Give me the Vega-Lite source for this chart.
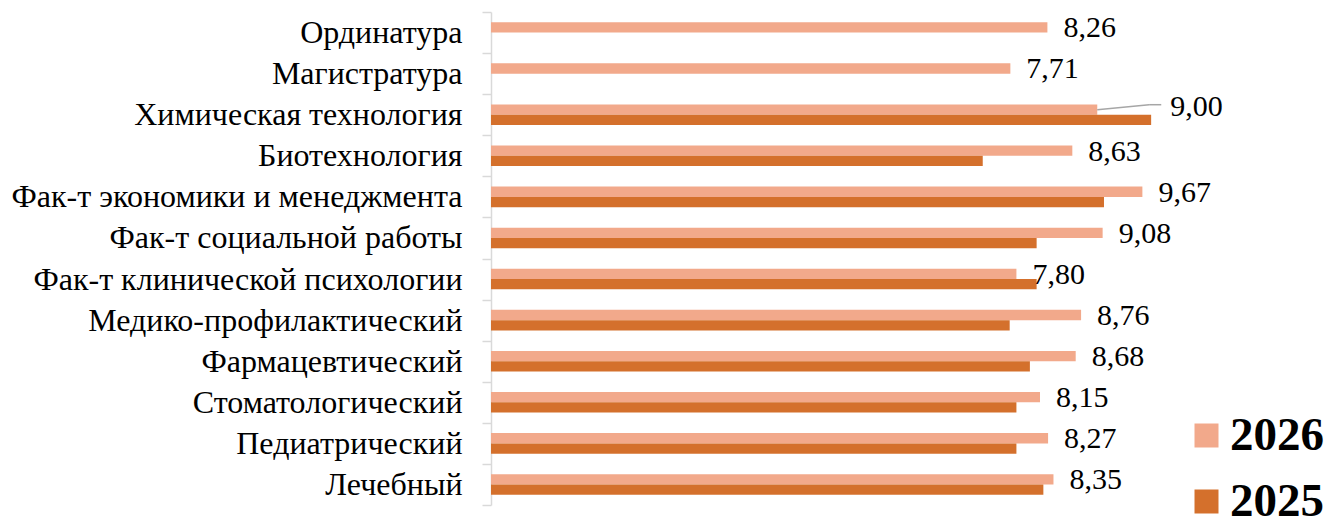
{
  "$schema": "https://vega.github.io/schema/vega-lite/v6.json",
  "width": 840,
  "height": 493,
  "autosize": {"type": "none"},
  "padding": {"left": 491, "top": 12, "right": 1, "bottom": 12},
  "background": "white",
  "config": {
    "view": {"stroke": null},
    "locale": {"number": {"decimal": ",", "thousands": " ", "grouping": [3], "currency": ["", ""]}}
  },
  "datasets": {
    "bars": [
      {"category": "Ординатура", "year": "2026", "value": 8.26},
      {"category": "Магистратура", "year": "2026", "value": 7.71},
      {"category": "Химическая технология", "year": "2026", "value": 9.00},
      {"category": "Химическая технология", "year": "2025", "value": 9.80},
      {"category": "Биотехнология", "year": "2026", "value": 8.63},
      {"category": "Биотехнология", "year": "2025", "value": 7.30},
      {"category": "Фак-т экономики и менеджмента", "year": "2026", "value": 9.67},
      {"category": "Фак-т экономики и менеджмента", "year": "2025", "value": 9.10},
      {"category": "Фак-т социальной работы", "year": "2026", "value": 9.08},
      {"category": "Фак-т социальной работы", "year": "2025", "value": 8.10},
      {"category": "Фак-т клинической психологии", "year": "2026", "value": 7.80},
      {"category": "Фак-т клинической психологии", "year": "2025", "value": 8.10},
      {"category": "Медико-профилактический", "year": "2026", "value": 8.76},
      {"category": "Медико-профилактический", "year": "2025", "value": 7.70},
      {"category": "Фармацевтический", "year": "2026", "value": 8.68},
      {"category": "Фармацевтический", "year": "2025", "value": 8.00},
      {"category": "Стоматологический", "year": "2026", "value": 8.15},
      {"category": "Стоматологический", "year": "2025", "value": 7.80},
      {"category": "Педиатрический", "year": "2026", "value": 8.27},
      {"category": "Педиатрический", "year": "2025", "value": 7.80},
      {"category": "Лечебный", "year": "2026", "value": 8.35},
      {"category": "Лечебный", "year": "2025", "value": 8.20}
    ],
    "leader": [
      {"category": "Химическая технология", "start": 9.00, "bend": 9.77, "end": 9.95}
    ]
  },
  "layer": [
    {
      "data": {"name": "bars"},
      "mark": {"type": "bar", "stroke": null},
      "encoding": {
        "y": {
          "field": "category", "type": "nominal",
          "scale": {
            "domain": ["Ординатура", "Магистратура", "Химическая технология", "Биотехнология", "Фак-т экономики и менеджмента", "Фак-т социальной работы", "Фак-т клинической психологии", "Медико-профилактический", "Фармацевтический", "Стоматологический", "Педиатрический", "Лечебный"],
            "paddingInner": 0, "paddingOuter": 0
          },
          "axis": {
            "title": null,
            "domainColor": "#d9d9d9", "domainWidth": 1.5,
            "tickColor": "#d9d9d9", "tickWidth": 1.5, "tickSize": 9, "tickBand": "extent",
            "labelFont": "Liberation Serif", "labelFontSize": 32, "labelColor": "#000000",
            "labelPadding": 20, "labelLimit": 600
          }
        },
        "yOffset": {"field": "year", "type": "nominal", "scale": {"domain": ["2026", "2025"], "paddingInner": 0, "paddingOuter": 1}},
        "x": {"field": "value", "type": "quantitative", "scale": {"domain": [0, 12.47], "nice": false, "zero": true}, "axis": null},
        "color": {
          "field": "year", "type": "nominal",
          "scale": {"domain": ["2026", "2025"], "range": ["#F2A98B", "#D4702C"]},
          "legend": {
            "orient": "none", "legendX": 692, "legendY": 400, "title": null,
            "symbolType": "square", "symbolSize": 576, "symbolStrokeWidth": 0,
            "labelFont": "Liberation Serif", "labelFontSize": 47, "labelFontWeight": "bold",
            "labelColor": "#000000", "labelOffset": 0, "rowPadding": 18, "padding": 0
          }
        }
      }
    },
    {
      "data": {"name": "bars"},
      "transform": [{"filter": "datum.year == '2026' && datum.category != 'Химическая технология'"}],
      "mark": {"type": "text", "align": "left", "baseline": "middle", "dx": 16, "dy": 1, "font": "Liberation Serif", "fontSize": 30, "color": "#000000"},
      "encoding": {
        "y": {"field": "category", "type": "nominal"},
        "yOffset": {"field": "year", "type": "nominal"},
        "x": {"field": "value", "type": "quantitative"},
        "text": {"field": "value", "type": "quantitative", "format": ".2f"}
      }
    },
    {
      "data": {"name": "bars"},
      "transform": [{"filter": "datum.year == '2026' && datum.category == 'Химическая технология'"}],
      "mark": {"type": "text", "align": "left", "baseline": "middle", "dx": 73, "dy": -3, "font": "Liberation Serif", "fontSize": 30, "color": "#000000"},
      "encoding": {
        "y": {"field": "category", "type": "nominal"},
        "yOffset": {"field": "year", "type": "nominal"},
        "x": {"field": "value", "type": "quantitative"},
        "text": {"field": "value", "type": "quantitative", "format": ".2f"}
      }
    },
    {
      "data": {"name": "leader"},
      "mark": {"type": "rule", "color": "#a6a6a6", "strokeWidth": 1.5, "yOffset": -5, "y2Offset": -10},
      "encoding": {
        "y": {"field": "category", "type": "nominal"},
        "y2": {"field": "category"},
        "x": {"field": "start", "type": "quantitative"},
        "x2": {"field": "bend"}
      }
    },
    {
      "data": {"name": "leader"},
      "mark": {"type": "rule", "color": "#a6a6a6", "strokeWidth": 1.5, "yOffset": -10},
      "encoding": {
        "y": {"field": "category", "type": "nominal"},
        "x": {"field": "bend", "type": "quantitative"},
        "x2": {"field": "end"}
      }
    }
  ]
}
